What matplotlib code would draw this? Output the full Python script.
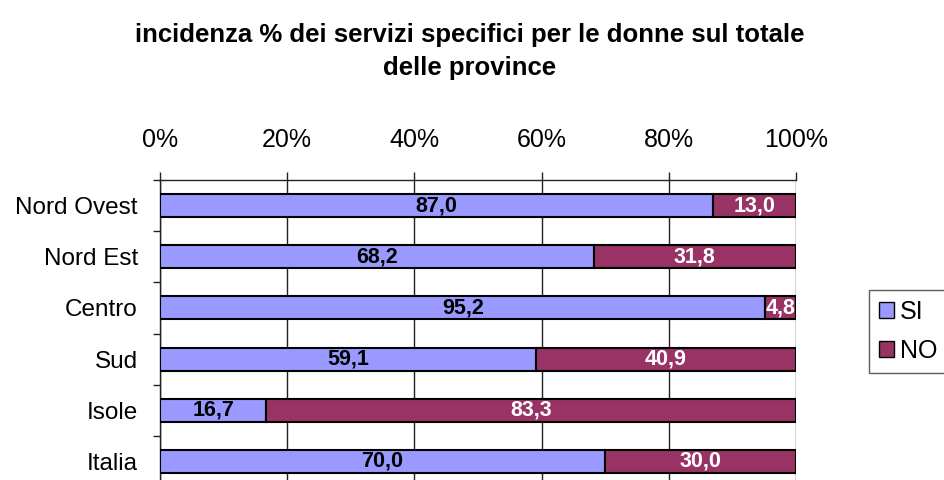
import matplotlib
matplotlib.use("Agg")
import matplotlib.pyplot as plt
from matplotlib import font_manager
import numpy as np

categories = ["Nord Ovest", "Nord Est", "Centro", "Sud", "Isole", "Italia"]
si_values = [87.0, 68.2, 95.2, 59.1, 16.7, 70.0]
no_values = [13.0, 31.8, 4.8, 40.9, 83.3, 30.0]
xticks = [0, 20, 40, 60, 80, 100]
title = "incidenza % dei servizi specifici per le donne sul totale\ndelle province"

names = {f.name for f in font_manager.fontManager.ttflist}
narrow = "Liberation Sans Narrow" if "Liberation Sans Narrow" in names else "Liberation Sans"
plt.rcParams['font.family'] = ['Liberation Sans', 'DejaVu Sans']

fig = plt.figure(figsize=(9.44, 4.8), dpi=100)
ax = fig.add_axes([160/944, -7/480, 636/944, 307/480])

y = np.arange(len(categories))
si_col = "#9999FF"
no_col = "#993366"
ax.barh(y, si_values, height=0.45, color=si_col, edgecolor="black", linewidth=1.5, label="SI", zorder=3)
ax.barh(y, no_values, left=si_values, height=0.45, color=no_col, edgecolor="black", linewidth=1.5, label="NO", zorder=3)

for i, (s, n) in enumerate(zip(si_values, no_values)):
    ax.text(s/2, i, f"{s:.1f}".replace(".", ","), ha="center", va="center",
            fontsize=15.5, fontweight="bold", color="black", family=[narrow, 'DejaVu Sans'], zorder=4)
    ax.text(s + n/2, i, f"{n:.1f}".replace(".", ","), ha="center", va="center",
            fontsize=15.5, fontweight="bold", color="white", family=[narrow, 'DejaVu Sans'], zorder=4)

ax.set_xlim(0, 100)
ax.set_ylim(len(categories) - 0.5, -0.5)
ax.set_xticks(xticks)
ax.set_xticklabels([f"{v}%" for v in xticks])
ax.xaxis.tick_top()
ax.tick_params(axis="x", which="major", direction="out", length=6, width=1, color="#222222",
               pad=14, labelsize=18)
ax.grid(axis="x", color="#222222", linewidth=1, zorder=0)
ax.set_yticks(y)
ax.set_yticklabels(categories)
ax.tick_params(axis="y", which="major", length=0, pad=16, labelsize=17.5)
ax.set_yticks(np.arange(-0.5, len(categories), 1.0), minor=True)
ax.tick_params(axis="y", which="minor", direction="out", length=5, width=1, color="#222222")
for side in ["bottom", "right"]:
    ax.spines[side].set_visible(False)
for side in ["top", "left"]:
    ax.spines[side].set_color("#222222")
    ax.spines[side].set_linewidth(1)

fig.suptitle(title, x=470/944, y=0.952, fontsize=18.5, fontweight="bold", linespacing=1.45)

leg = fig.legend(loc="upper left", bbox_to_anchor=(869/944, 1 - 290/480), fontsize=18,
                 handlelength=0.6, handleheight=0.6, handletextpad=0.25, borderpad=0.4,
                 labelspacing=0.6, frameon=True, fancybox=False, edgecolor="#333333",
                 borderaxespad=0)
leg.get_frame().set_linewidth(1)
for p in leg.get_patches():
    p.set_linewidth(1)

fig.savefig("out.png", dpi=100)
